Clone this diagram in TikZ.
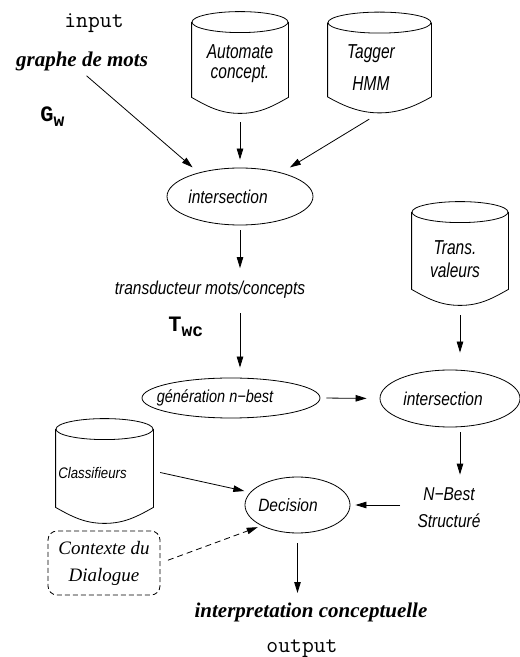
\documentclass[tikz,border=0pt]{standalone}
\usepackage{fontspec}
\usepackage{graphicx}
\usepackage{tikz}
\usetikzlibrary{shapes.geometric,arrows.meta,calc}

\newfontfamily\helv{Liberation Sans}
\newfontfamily\tms{Liberation Serif}
\newfontfamily\cour{Liberation Mono}

% texte un peu etire en hauteur
\newcommand{\haut}[2][1.3]{\scalebox{1}[#1]{#2}}

% reservoir : nom, position, largeur, hauteur
\newcommand{\cuve}[4]{%
  \node[cuvebox, minimum width=#3, minimum height=#4] (#1) at (#2) {};
  \draw ($(#1.north west)+(0,-10.5)$) -- ($(#1.south west)+(0,16)$)
     .. controls ($(#1.south west)+(16,7)$) and ($(#1.south)+(-20,0)$) .. (#1.south)
     .. controls ($(#1.south)+(20,0)$) and ($(#1.south east)+(-16,7)$) .. ($(#1.south east)+(0,16)$)
     -- ($(#1.north east)+(0,-10.5)$);
  \draw ($(#1.north)+(0,-10.5)$) ellipse [x radius=#3/2, y radius=10.5];
}

\tikzset{
  cuvebox/.style={draw=none, inner sep=0pt},
  etiq/.style={font=\helv\itshape\fontsize{15.5}{20}\selectfont, inner sep=1pt},
  ovale/.style={draw, ellipse, inner sep=0pt},
  machine/.style={font=\ttfamily\fontsize{23}{26}\selectfont, inner sep=0pt},
  titre/.style={font=\tms\bfseries\itshape\fontsize{21}{24}\selectfont, inner sep=0pt},
  indice/.style={font=\cour\bfseries\fontsize{22}{24}\selectfont, inner sep=0pt},
  fleche/.style={->, >={Triangle[length=11pt,width=6.5pt]}},
}

\begin{document}
\begin{tikzpicture}[x=1pt,y=1pt,line width=0.8pt]
    \useasboundingbox (0,0) rectangle (520,657);

    % entree
    \node[machine, anchor=base] (input) at (94,629) {input};
    \node[titre, anchor=base] (graphe) at (82,590) {graphe de mots};
    \node[indice, anchor=base west] (gw) at (40,535) {G\raisebox{-5pt}{\fontsize{18}{20}\selectfont w}};

    % automates
    \cuve{auto}{240,594.5}{96}{101}
    \node[etiq, align=center] (autotxt) at (240,593) {\haut{Automate}\\\haut{concept.}};
    \cuve{tagger}{379.5,594.5}{103}{100}
    \node[etiq, align=center] (taggertxt) at (371,589.5) {\haut{Tagger}\\[12pt]\haut{HMM}};

    \node[ovale, minimum width=146, minimum height=57,
          label={[etiq, xshift=-12pt]center:\haut[1.2]{intersection}}] (inter1) at (240,460.5) {};

    \draw[fleche, shorten <=6pt, shorten >=8pt] (graphe.south) -- (inter1.150);
    \draw[fleche, shorten <=9pt, shorten >=8pt] (auto.south) -- (inter1.north);
    \draw[fleche, shorten <=12pt, shorten >=10pt] (tagger.south) -- (inter1.30);

    % transducteur
    \node[etiq, anchor=base] (trans) at (210,362) {\haut[1.2]{transducteur mots/concepts}};
    \node[indice, anchor=base west] (twc) at (168,325) {T\raisebox{-5pt}{\fontsize{18}{20}\selectfont wc}};
    \draw[fleche, shorten <=5pt, shorten >=12pt] (inter1.south) -- (inter1.south |- trans.north);

    \node[ovale, minimum width=178, minimum height=40,
          label={[etiq, font=\helv\itshape\fontsize{14.5}{18}\selectfont, xshift=-16pt]center:\haut[1.2]{génération n−best}}] (gen) at (231,259) {};
    \draw[fleche, shorten <=13pt, shorten >=10pt] (inter1.south |- trans.south) -- (inter1.south |- gen.north);

    % valeurs
    \cuve{valeurs}{460,403.5}{96}{103}
    \node[etiq, align=center] (valeurstxt) at (455,397.5) {\haut{Trans.}\\[3pt]\haut{valeurs}};
    \node[ovale, minimum width=140, minimum height=57,
          label={[etiq, xshift=-7pt]center:\haut[1.2]{intersection}}] (inter2) at (450,258.5) {};
    \draw[fleche, shorten <=6pt, shorten >=13pt] (gen.east) -- (inter2.west);
    \draw[fleche, shorten <=10pt, shorten >=17pt] (valeurs.south) -- (valeurs.south |- inter2.north);

    \node[etiq, align=center] (nbest) at (449,149) {\haut[1.2]{N−Best}\\[7pt]\haut[1.2]{Structuré}};
    \draw[fleche, shorten <=5pt, shorten >=12pt] (inter2.south -| valeurs.south) -- (nbest.north -| valeurs.south);

    % decision
    \node[ovale, minimum width=105, minimum height=56,
          label={[etiq, xshift=-9.5pt]center:\haut[1.15]{Decision}}] (decision) at (297.5,152) {};
    \draw[fleche, shorten <=16pt, shorten >=5pt] (nbest.west |- decision.east) -- (decision.east);

    \cuve{classif}{104.5,186}{97}{104}
    \node[etiq, font=\helv\itshape\fontsize{13.2}{16}\selectfont, anchor=base west, inner sep=0pt] (classiftxt) at (58,178) {\haut[1.16]{Classifieurs}};
    \draw[fleche, shorten <=7pt, shorten >=6pt] (classif.east) -- (decision.165);

    \node[draw, dash pattern=on 5pt off 3pt, rounded corners=9pt, minimum width=112, minimum height=64, align=center, font=\tms\itshape\fontsize{19}{27}\selectfont, inner sep=0pt] (contexte) at (104,94) {Contexte du\\Dialogue};
    \draw[fleche, dash pattern=on 6pt off 4pt, shorten <=8pt, shorten >=4pt] (contexte.east) -- (decision.210);

    % sortie
    \node[titre, anchor=base] (interp) at (311,39) {interpretation conceptuelle};
    \node[machine, anchor=base] (output) at (302,5) {output};
    \draw[fleche, shorten <=10pt, shorten >=10pt] (decision.south) -- (decision.south |- interp.north);
\end{tikzpicture}
\end{document}
